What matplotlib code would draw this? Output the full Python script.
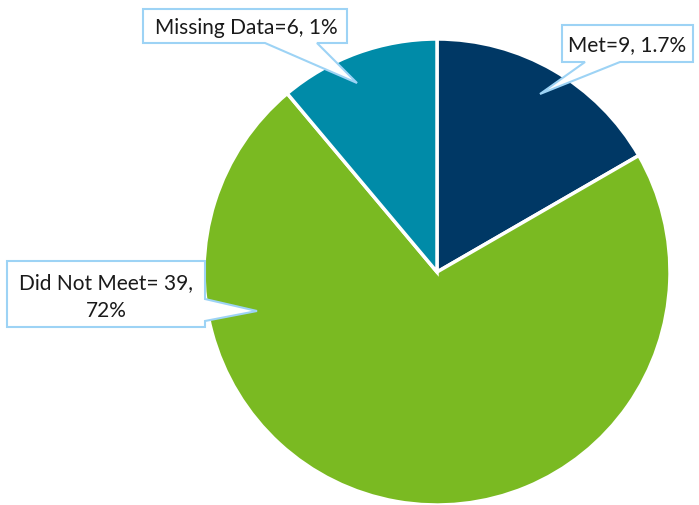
import matplotlib
matplotlib.use('Agg')
from matplotlib import pyplot as plt
from matplotlib.patches import Polygon

# Slice data (clockwise from the top)
categories = ['Met', 'Did Not Meet', 'Missing Data']
counts = [9, 39, 6]
labels = ['Met=9, 1.7%', 'Did Not Meet= 39,\n72%', 'Missing Data=6, 1%']
colors = ['#003865', '#7aba22', '#008ba8']

plt.rcParams['font.family'] = ['Lato', 'DejaVu Sans']

W, H = 699, 506
fig = plt.figure(figsize=(W / 100, H / 100), dpi=100)

# Pie axes: centre (437, 273), radius 233 px
cx, cy, r = 437, 273, 233
ax = fig.add_axes([(cx - r) / W, (H - cy - r) / H, 2 * r / W, 2 * r / H])
ax.pie(counts, colors=colors, startangle=90, counterclock=False,
       wedgeprops=dict(edgecolor='white', linewidth=2.5))
ax.set_xlim(-1.0, 1.0)
ax.set_ylim(-1.0, 1.0)
ax.set_aspect('equal')
ax.axis('off')

# Overlay axes in pixel coordinates for the callouts
ov = fig.add_axes([0, 0, 1, 1])
ov.set_xlim(0, W)
ov.set_ylim(H, 0)
ov.axis('off')

callouts = {
    'Met': dict(shape=[(562, 26), (693, 26), (693, 63), (620, 63), (540, 95), (585, 63), (562, 63)],
                text=(627, 45)),
    'Did Not Meet': dict(shape=[(7, 262), (205, 262), (205, 300), (257, 312), (205, 322), (205, 328), (7, 328)],
                         text=(106, 297)),
    'Missing Data': dict(shape=[(143, 10), (347, 10), (347, 44), (317, 44), (357, 84), (265, 44), (143, 44)],
                         text=(246, 28)),
}

for cat, lab in zip(categories, labels):
    c = callouts[cat]
    ov.add_patch(Polygon(c['shape'], closed=True, facecolor='white',
                         edgecolor='#9dd3f5', linewidth=1.5, joinstyle='miter'))
    ov.text(c['text'][0], c['text'][1], lab, ha='center', va='center',
            multialignment='center', fontsize=15, color='#1a1a1a',
            linespacing=1.45)

fig.savefig('out.png', dpi=100)
